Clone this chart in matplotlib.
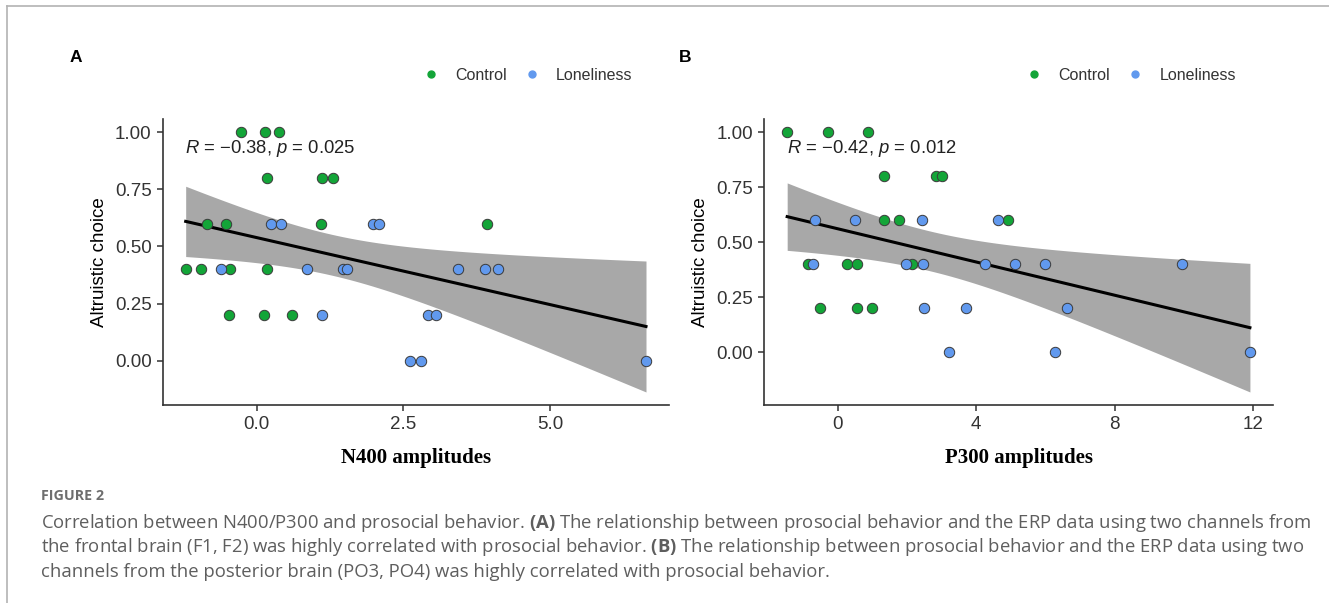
import numpy as np
import matplotlib
matplotlib.use("Agg")
import matplotlib.pyplot as plt
from matplotlib.lines import Line2D

plt.rcParams["font.family"] = ["Liberation Sans", "DejaVu Sans"]
plt.rcParams["mathtext.fontset"] = "custom"
plt.rcParams["mathtext.it"] = "Liberation Sans:italic"
plt.rcParams["mathtext.rm"] = "Liberation Sans"
plt.rcParams["mathtext.bf"] = "Open Sans:bold"

# ---- data ----
# panel A: N400 amplitudes vs altruistic choice
n400_control = [-0.27, 0.15, 0.38,
                0.18, 1.11, 1.31,
                -0.84, -0.52, 1.10, 3.93,
                -1.21, -0.95, -0.46, 0.18,
                -0.47, 0.12, 0.61]
alt_a_control = [1.0, 1.0, 1.0,
                 0.8, 0.8, 0.8,
                 0.6, 0.6, 0.6, 0.6,
                 0.4, 0.4, 0.4, 0.4,
                 0.2, 0.2, 0.2]
n400_lonely = [0.24, 0.41, 1.98, 2.08,
               -0.60, 0.86, 1.47, 1.54, 3.44, 3.89, 4.12,
               1.12, 2.92, 3.06,
               2.62, 2.80, 6.64]
alt_a_lonely = [0.6, 0.6, 0.6, 0.6,
                0.4, 0.4, 0.4, 0.4, 0.4, 0.4, 0.4,
                0.2, 0.2, 0.2,
                0.0, 0.0, 0.0]

# panel B: P300 amplitudes vs altruistic choice
p300_control = [-1.46, -0.27, 0.87,
                1.33, 2.85, 3.02,
                1.33, 1.78, 4.91,
                -0.87, 0.27, 0.56, 2.15,
                -0.51, 0.56, 0.98]
alt_b_control = [1.0, 1.0, 1.0,
                 0.8, 0.8, 0.8,
                 0.6, 0.6, 0.6,
                 0.4, 0.4, 0.4, 0.4,
                 0.2, 0.2, 0.2]
p300_lonely = [-0.67, 0.49, 2.44, 4.63,
               -0.72, 1.96, 2.46, 4.24, 5.13, 5.99, 9.95,
               2.48, 3.71, 6.63,
               3.21, 6.26, 11.90]
alt_b_lonely = [0.6, 0.6, 0.6, 0.6,
                0.4, 0.4, 0.4, 0.4, 0.4, 0.4, 0.4,
                0.2, 0.2, 0.2,
                0.0, 0.0, 0.0]

stats_a = r"$R$ = −0.38, $p$ = 0.025"
stats_b = r"$R$ = −0.42, $p$ = 0.012"
xticks_a = [0, 2.5, 5.0]
xticklabels_a = ["0.0", "2.5", "5.0"]
xticks_b = [0, 4, 8, 12]
xticklabels_b = ["0", "4", "8", "12"]
yticks = [0, 0.25, 0.5, 0.75, 1.0]
yticklabels = ["0.00", "0.25", "0.50", "0.75", "1.00"]

green = "#13a538"
blue = "#6199ee"


def lm_band(x, y, n_out=80):
    # ordinary least squares + 95% confidence band (like geom_smooth(method="lm"))
    x = np.asarray(x)
    y = np.asarray(y)
    n = len(x)
    b1, b0 = np.polyfit(x, y, 1)
    resid = y - (b0 + b1 * x)
    s = np.sqrt(np.sum(resid ** 2) / (n - 2))
    sxx = np.sum((x - x.mean()) ** 2)
    df = n - 2
    z = 1.959964
    t = z + (z ** 3 + z) / (4 * df) + (5 * z ** 5 + 16 * z ** 3 + 3 * z) / (96 * df ** 2)
    xs = np.linspace(x.min(), x.max(), n_out)
    fit = b0 + b1 * xs
    se = s * np.sqrt(1 / n + (xs - x.mean()) ** 2 / sxx)
    return xs, fit, fit - t * se, fit + t * se


def panel(ax, xc, yc, xl, yl, stats, xticks, xticklabels, xlabel):
    x_all = np.concatenate([xc, xl])
    y_all = np.concatenate([yc, yl])
    xs, fit, lo, hi = lm_band(x_all, y_all)

    ax.fill_between(xs, lo, hi, color="#a8a8a8", lw=0, zorder=1)
    ax.plot(xs, fit, color="black", lw=2.2, zorder=2)
    ax.scatter(xc, yc, s=56, color=green, edgecolor="#3a3a3a", lw=0.7, zorder=3)
    ax.scatter(xl, yl, s=56, color=blue, edgecolor="#3a3a3a", lw=0.7, zorder=3)

    # ggplot-like 5% expansion
    xr = x_all.max() - x_all.min()
    ax.set_xlim(x_all.min() - 0.05 * xr, x_all.max() + 0.05 * xr)
    ymin = min(y_all.min(), lo.min())
    ymax = max(y_all.max(), hi.max())
    yr = ymax - ymin
    ax.set_ylim(ymin - 0.05 * yr, ymax + 0.05 * yr)

    ax.set_xticks(xticks)
    ax.set_xticklabels(xticklabels)
    ax.set_yticks(yticks)
    ax.set_yticklabels(yticklabels)
    ax.tick_params(labelsize=13.5, colors="#333333", length=4, width=1.1, pad=4)
    for side in ["top", "right"]:
        ax.spines[side].set_visible(False)
    for side in ["left", "bottom"]:
        ax.spines[side].set_color("#333333")
        ax.spines[side].set_linewidth(1.2)

    ax.set_ylabel("Altruistic choice", fontsize=13.5, labelpad=5)
    ax.set_xlabel(xlabel, fontsize=15, family="Liberation Serif", fontweight="bold", labelpad=11)
    ax.text(0.045, 0.899, stats, transform=ax.transAxes, fontsize=13.3, color="#222222",
            va="center")


fig = plt.figure(figsize=(13.29, 6.03), dpi=100)
ax_a = fig.add_axes([0.1224, 0.3284, 0.381, 0.4739])
ax_b = fig.add_axes([0.5749, 0.3284, 0.383, 0.4739])

panel(ax_a, n400_control, alt_a_control, n400_lonely, alt_a_lonely, stats_a,
      xticks_a, xticklabels_a, "N400 amplitudes")
panel(ax_b, p300_control, alt_b_control, p300_lonely, alt_b_lonely, stats_b,
      xticks_b, xticklabels_b, "P300 amplitudes")

handles = [Line2D([], [], ls="", marker="o", ms=5, color=green, label="Control"),
           Line2D([], [], ls="", marker="o", ms=5, color=blue, label="Loneliness")]
for xpos in [0.394, 0.848]:
    fig.legend(handles=handles, loc="center", bbox_to_anchor=(xpos, 1 - 75 / 603),
               ncol=2, frameon=False, fontsize=11.5, handletextpad=0.5, columnspacing=0.6,
               labelcolor="#333333")

fig.text(70 / 1329, 1 - 58 / 603, "A", fontsize=12.5, fontweight="bold", va="center")
fig.text(679 / 1329, 1 - 58 / 603, "B", fontsize=12.5, fontweight="bold", va="center")

# frame lines of the figure page
fig.add_artist(Line2D([7 / 1329, 7 / 1329], [0, 1 - 6 / 603], color="#b3b3b3", lw=1.2))
fig.add_artist(Line2D([7 / 1329, 1], [1 - 6 / 603, 1 - 6 / 603], color="#b3b3b3", lw=1.2))

cap_color = "#5e5e5e"
fig.text(41 / 1329, 1 - 496 / 603, "FIGURE 2", fontsize=10.3, family="Open Sans",
         fontweight="bold", color="#6e6e6e", va="center")
caption = [
    r"Correlation between N400/P300 and prosocial behavior. $\mathbf{(A)}$ The relationship between prosocial behavior and the ERP data using two channels from",
    r"the frontal brain (F1, F2) was highly correlated with prosocial behavior. $\mathbf{(B)}$ The relationship between prosocial behavior and the ERP data using two",
    "channels from the posterior brain (PO3, PO4) was highly correlated with prosocial behavior.",
]
for i, line in enumerate(caption):
    fig.text(41 / 1329, 1 - (523 + 24.5 * i) / 603, line, fontsize=13.3, family="Open Sans",
             color=cap_color, va="center")

fig.savefig("out.png", dpi=100)
